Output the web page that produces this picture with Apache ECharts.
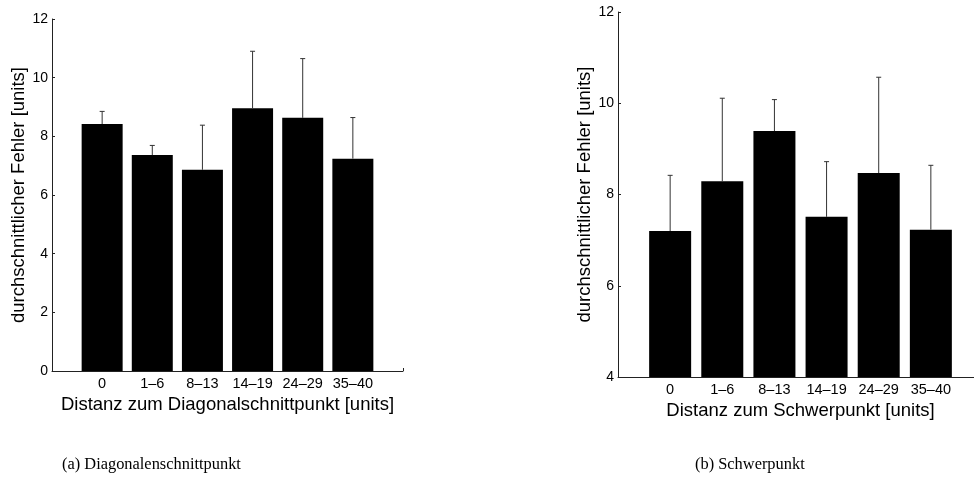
<!DOCTYPE html>
<html>
<head>
<meta charset="utf-8">
<script src="https://cdn.jsdelivr.net/npm/echarts@6/dist/echarts.min.js"></script>
<style>
  html, body { margin: 0; padding: 0; background: #fff; }
  #chart { width: 974px; height: 482px; }
</style>
</head>
<body>
<div id="chart"></div>
<script>
// Distance classes (shared by both panels)
const categories = ['0', '1–6', '8–13', '14–19', '24–29', '35–40'];

// (a) error relative to the diagonal intersection point
const diagMean = [8.42, 7.36, 6.86, 8.96, 8.63, 7.24];
const diagStd  = [0.43, 0.33, 1.52, 1.94, 2.02, 1.40];

// (b) error relative to the centroid
const schwerMean = [7.20, 8.29, 9.39, 7.51, 8.47, 7.23];
const schwerStd  = [1.22, 1.82, 0.69, 1.21, 2.10, 1.41];

// y-axis tick settings per panel
const diagYTicks   = { min: 0, max: 12, interval: 2 };
const schwerYTicks = { min: 4, max: 12, interval: 2 };

const FONT = 'Liberation Sans, Arial, Helvetica, sans-serif';
const AXIS_COLOR = '#222';

const barData = means => means.map((v, i) => [i + 1, v]);
const errData = (means, stds) => means.map((v, i) => [i + 1, v, v + stds[i]]);

function xAxisFor(gridIndex) {
  return {
    type: 'value', gridIndex, min: 0, max: 7, interval: 1,
    name: gridIndex === 0 ? 'Distanz zum Diagonalschnittpunkt [units]' : 'Distanz zum Schwerpunkt [units]',
    nameLocation: 'middle', nameGap: 19,
    nameTextStyle: { fontFamily: FONT, fontSize: 18.5, color: '#000' },
    axisLine: { show: true, lineStyle: { color: AXIS_COLOR, width: 1 } },
    axisTick: { show: true, inside: true, length: 3, lineStyle: { color: AXIS_COLOR } },
    splitLine: { show: false },
    axisLabel: {
      fontFamily: FONT, fontSize: 14.5, color: '#000', margin: 5,
      formatter: v => categories[v - 1] || ''
    }
  };
}

function yAxisFor(gridIndex, ticks, gap) {
  return {
    type: 'value', gridIndex, min: ticks.min, max: ticks.max, interval: ticks.interval,
    name: 'durchschnittlicher Fehler [units]',
    nameLocation: 'middle', nameGap: gap, nameRotate: 90,
    nameTextStyle: { fontFamily: FONT, fontSize: 18.5, color: '#000' },
    axisLine: { show: true, lineStyle: { color: AXIS_COLOR, width: 1 } },
    axisTick: { show: true, inside: true, length: 3, lineStyle: { color: AXIS_COLOR } },
    splitLine: { show: false },
    axisLabel: { fontFamily: FONT, fontSize: 14, color: '#000', margin: 4 }
  };
}

// one-sided error bar: vertical stroke from the bar top plus a short cap
function renderErr(params, api) {
  const x = api.value(0);
  const base = api.coord([x, api.value(1)]);
  const top = api.coord([x, api.value(2)]);
  const style = { stroke: '#333', lineWidth: 1, fill: null };
  return {
    type: 'group',
    children: [
      { type: 'line', shape: { x1: base[0], y1: base[1], x2: top[0], y2: top[1] }, style },
      { type: 'line', shape: { x1: top[0] - 2.5, y1: top[1], x2: top[0] + 2.5, y2: top[1] }, style }
    ]
  };
}

const option = {
  animation: false,
  backgroundColor: '#fff',
  grid: [
    { left: 52, top: 19, width: 351, height: 352, containLabel: false, outerBoundsMode: 'none' },
    { left: 618, top: 12, width: 365, height: 365, containLabel: false, outerBoundsMode: 'none' }
  ],
  xAxis: [xAxisFor(0), xAxisFor(1)],
  yAxis: [yAxisFor(0, diagYTicks, 23), yAxisFor(1, schwerYTicks, 24)],
  series: [
    {
      type: 'bar', xAxisIndex: 0, yAxisIndex: 0, barWidth: 41, clip: true,
      itemStyle: { color: '#000' }, data: barData(diagMean)
    },
    {
      type: 'custom', xAxisIndex: 0, yAxisIndex: 0, z: 5, clip: true,
      renderItem: renderErr, data: errData(diagMean, diagStd)
    },
    {
      type: 'bar', xAxisIndex: 1, yAxisIndex: 1, barWidth: 42, clip: true,
      itemStyle: { color: '#000' }, data: barData(schwerMean)
    },
    {
      type: 'custom', xAxisIndex: 1, yAxisIndex: 1, z: 5, clip: true,
      renderItem: renderErr, data: errData(schwerMean, schwerStd)
    }
  ],
  graphic: [
    {
      type: 'text', left: 62, top: 457,
      style: { text: '(a) Diagonalenschnittpunkt', fill: '#000',
               font: '16.4px "Liberation Serif", "Times New Roman", serif' }
    },
    {
      type: 'text', left: 695, top: 457,
      style: { text: '(b) Schwerpunkt', fill: '#000',
               font: '16.4px "Liberation Serif", "Times New Roman", serif' }
    }
  ]
};

const chart = echarts.init(document.getElementById('chart'), null, { renderer: 'canvas' });
chart.setOption(option);
</script>
</body>
</html>
